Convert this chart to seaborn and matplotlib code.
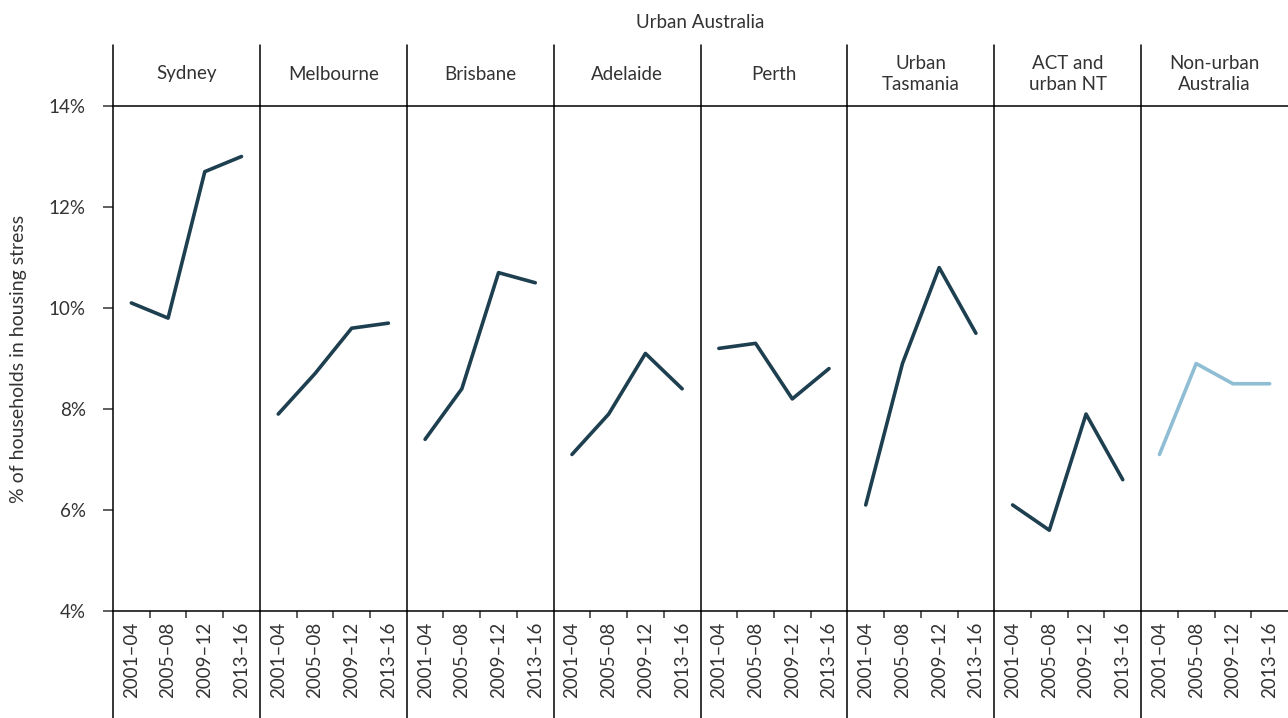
import pandas as pd
import seaborn as sns
import matplotlib.pyplot as plt
from matplotlib.ticker import PercentFormatter, FixedLocator

# ── Data ──────────────────────────────────────────────────────────────────────
PERIODS = ["2001–04", "2005–08", "2009–12", "2013–16"]
REGIONS = ["Sydney", "Melbourne", "Brisbane", "Adelaide", "Perth",
           "Urban\nTasmania", "ACT and\nurban NT", "Non-urban\nAustralia"]

sydney     = [10.1, 9.8, 12.7, 13.0]
melbourne  = [7.9, 8.7, 9.6, 9.7]
brisbane   = [7.4, 8.4, 10.7, 10.5]
adelaide   = [7.1, 7.9, 9.1, 8.4]
perth      = [9.2, 9.3, 8.2, 8.8]
tasmania   = [6.1, 8.9, 10.8, 9.5]
act_nt     = [6.1, 5.6, 7.9, 6.6]
non_urban  = [7.1, 8.9, 8.5, 8.5]

SERIES = [sydney, melbourne, brisbane, adelaide, perth, tasmania, act_nt, non_urban]

DARK  = "#1d3f4f"
LIGHT = "#8fbdd3"
TEXT  = "#333333"

rows = []
for region, vals in zip(REGIONS, SERIES):
    for p, v in zip(PERIODS, vals):
        rows.append({"region": region, "period": p, "value": v})
df = pd.DataFrame(rows)

# ── Plot ──────────────────────────────────────────────────────────────────────
sns.set_theme(style="white")
plt.rcParams["font.family"] = ["Lato", "DejaVu Sans"]
plt.rcParams["text.color"] = TEXT
plt.rcParams["axes.labelcolor"] = TEXT
plt.rcParams["xtick.color"] = TEXT
plt.rcParams["ytick.color"] = TEXT

FS = 13.5

W, H = 1288, 718
fig, axes = plt.subplots(1, len(REGIONS), figsize=(W / 100, H / 100), dpi=100, sharey=True)
fig.subplots_adjust(left=113 / W, right=1.0, bottom=(H - 611) / H, top=(H - 106) / H, wspace=0)

top_ext = (611 - 45) / 505
bot_ext = -(718 - 611) / 505

for i, (ax, region) in enumerate(zip(axes, REGIONS)):
    sub = df[df["region"] == region]
    color = LIGHT if region.startswith("Non-urban") else DARK
    sns.lineplot(data=sub, x="period", y="value", ax=ax, color=color,
                 linewidth=2.6, sort=False)
    ax.set_xlim(-0.5, 3.5)
    ax.set_ylim(4, 14)
    ax.set_xlabel("")
    ax.set_ylabel("")

    for s in ["left", "right"]:
        ax.spines[s].set_visible(False)
    for s in ["top", "bottom"]:
        ax.spines[s].set_color("black")
        ax.spines[s].set_linewidth(1.1)

    # panel divider running through header and tick-label band
    ax.axvline(-0.5, ymin=bot_ext, ymax=top_ext, color="black", lw=1.1, clip_on=False)

    ax.set_xticks(range(len(PERIODS)))
    ax.set_xticklabels(PERIODS, rotation=90, fontsize=FS)
    ax.xaxis.set_minor_locator(FixedLocator([0.5, 1.5, 2.5]))
    ax.tick_params(axis="x", which="major", direction="out", length=2, width=0.8, pad=6)
    ax.tick_params(axis="x", which="minor", direction="out", length=5, width=1.1, bottom=True)

    ax.text(1.5, (611 - 74) / 505, region, transform=ax.get_xaxis_transform(),
            ha="center", va="center", fontsize=FS, linespacing=1.25)

    if i == 0:
        ax.set_yticks([4, 6, 8, 10, 12, 14])
        ax.yaxis.set_major_formatter(PercentFormatter(decimals=0))
        ax.tick_params(axis="y", which="major", direction="out", length=7.5, width=1.1,
                       labelsize=FS, pad=12, left=True)
        ax.set_ylabel("% of households in housing stress", fontsize=14, labelpad=16)
    else:
        ax.tick_params(axis="y", left=False)

fig.text(700 / W, 1 - 22 / H, "Urban Australia", ha="center", va="center", fontsize=FS)

fig.savefig("out.png", dpi=100)
plt.close(fig)
